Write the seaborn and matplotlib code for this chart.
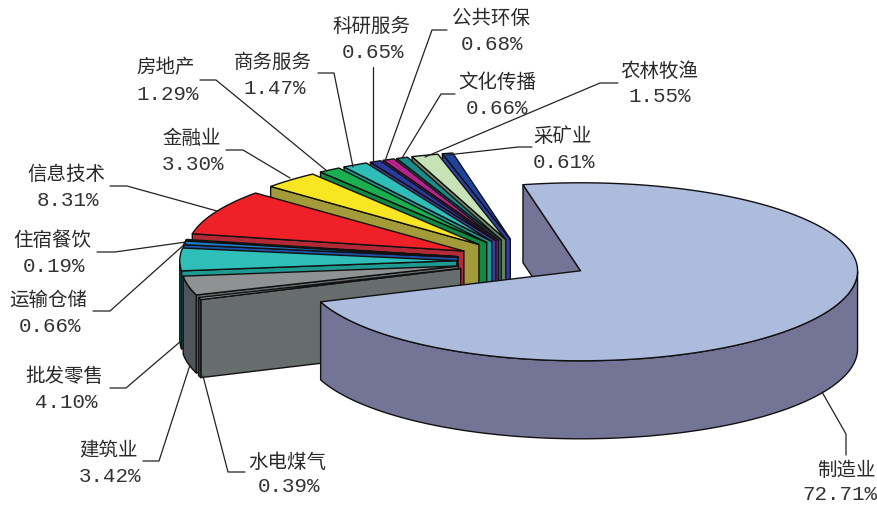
import numpy as np
import matplotlib
matplotlib.use("Agg")
import matplotlib.pyplot as plt
import seaborn as sns

categories = ["制造业", "水电煤气", "建筑业", "批发零售", "运输仓储", "住宿餐饮", "信息技术", "金融业",
              "房地产", "商务服务", "科研服务", "公共环保", "文化传播", "农林牧渔", "采矿业"]
values = [72.71, 0.39, 3.42, 4.10, 0.66, 0.19, 8.31, 3.30, 1.29, 1.47, 0.65, 0.68, 0.66, 1.55, 0.61]
top_hex = ["#ADBBDD", "#9A9E9F", "#8F9192", "#2EC0B8", "#1C7FC8", "#7A8CA8", "#EF2028", "#F9E622",
           "#1AAF4F", "#2EBDB8", "#2A3A9E", "#B7218C", "#1A8C8C", "#C8E2B8", "#1E459E"]
side_hex = ["#747596", "#676D6D", "#676C6C", "#1F9A93", "#1E4FA0", "#1E3C8C", "#B32A36", "#A39B3A",
            "#0F8A40", "#1F9A93", "#4040A0", "#8A1E78", "#1F7C80", "#6E8060", "#2E3FA8"]
arc_hex = ["#747596", "#3E4446", "#4F5558", "#1A8A84", "#1E4FA0", "#1E3C8C", "#B32A36", "#A39B3A",
           "#0F8A40", "#1F9A93", "#4040A0", "#8A1E78", "#1F7C80", "#6E8060", "#2E3FA8"]

# label layout: name centre, value centre, leader path (pixels)
label_pos = {
    "制造业": ((846, 470), (840, 495), [(822, 392), (846, 434), (846, 455)]),
    "水电煤气": ((287, 462), (289, 487), [(203, 376), (228, 472), (245, 472)]),
    "建筑业": ((109, 450), (110, 476), [(190, 365), (159, 461), (143, 461)]),
    "批发零售": ((64, 376), (66, 403), [(181, 341), (126, 388), (110, 388)]),
    "运输仓储": ((48, 301), (50, 326), [(186, 243), (110, 311), (93, 311)]),
    "住宿餐饮": ((52, 241), (54, 267), [(186, 242), (115, 252), (97, 252)]),
    "信息技术": ((66, 174), (68, 200), [(217, 211), (127, 186), (110, 186)]),
    "金融业": ((192, 138), (193, 164), [(290, 178), (243, 150), (226, 150)]),
    "房地产": ((166, 68), (168, 94), [(327, 171), (216, 80), (200, 80)]),
    "商务服务": ((273, 62), (275, 88), [(353, 167), (334, 73), (318, 73)]),
    "科研服务": ((371, 26), (373, 52), [(373, 162), (373, 67)]),
    "公共环保": ((491, 18), (492, 44), [(385, 161), (432, 30), (447, 30)]),
    "文化传播": ((497, 82), (497, 108), [(402, 158), (441, 94), (455, 94)]),
    "农林牧渔": ((659, 71), (660, 97), [(425, 157), (600, 83), (618, 83)]),
    "采矿业": ((563, 136), (564, 162), [(447, 155), (518, 147), (532, 147)]),
}

sns.set_theme(style="white")
plt.rcParams["font.family"] = ["Noto Sans CJK SC", "DejaVu Sans"]
top_colors = sns.color_palette(top_hex)
side_colors = sns.color_palette(side_hex)
arc_colors = sns.color_palette(arc_hex)

fig, ax = plt.subplots(figsize=(8.78, 5.05), dpi=100)
fig.subplots_adjust(0, 0, 1, 1)
ax.set_xlim(0, 878)
ax.set_ylim(505, 0)
ax.axis("off")

CX, CY = 526, 261
RX = 277
RY_BACK, RY_FRONT = 88, 90
EXPLODE_BIG, EXPLODE = 0.225, 0.25
DEPTH = 78
START = 102.0
EDGE = dict(edgecolor="#111111", linewidth=1.0, joinstyle="round")


def pts(x0, y0, t):
    s = np.sin(t)
    return x0 + RX * np.cos(t), y0 - np.where(s > 0, RY_BACK, RY_FRONT) * s


def draw_slice(i, a1, a2):
    mid = np.radians((a1 + a2) / 2)
    e = EXPLODE_BIG if i == 0 else EXPLODE
    x0 = CX + e * RX * np.cos(mid)
    y0 = CY - e * 90 * np.sin(mid)
    t = np.radians(np.linspace(a1, a2, max(int(a2 - a1) * 2, 4)))
    # radial cut faces turned towards the viewer
    for ang, vis in ((a2, np.cos(np.radians(a2)) < 0), (a1, np.cos(np.radians(a1)) > 0)):
        if vis:
            px, py = pts(x0, y0, np.radians(ang))
            ax.fill([x0, px, px, x0], [y0, py, py + DEPTH, y0 + DEPTH],
                    facecolor=side_colors[i], **EDGE)
    # outer rim on the near half of the ellipse
    near = t[np.sin(t) < 0]
    if near.size > 1:
        ax_, ay_ = pts(x0, y0, near)
        ax.fill(np.r_[ax_, ax_[::-1]], np.r_[ay_, ay_[::-1] + DEPTH],
                facecolor=arc_colors[i], **EDGE)
    # top face
    fx, fy = pts(x0, y0, t)
    ax.fill(np.r_[x0, fx], np.r_[y0, fy], facecolor=top_colors[i], **EDGE)


spans = np.array(values) / sum(values) * 360.0
edges = START - np.r_[0, np.cumsum(spans)]   # clockwise from START
order = list(range(len(values) - 1, 0, -1)) + [0]   # back to front, big slice last
for i in order:
    draw_slice(i, edges[i + 1], edges[i])

for name, val in zip(categories, values):
    (nx, ny), (vx, vy), path = label_pos[name]
    xs, ys = zip(*path)
    ax.plot(xs, ys, color="#222222", lw=0.9, zorder=5)
    ax.text(nx, ny, name, ha="center", va="center", fontsize=14, color="#2a2a2a", zorder=6)
    ax.text(vx, vy, f"{val:.2f}%", ha="center", va="center", fontsize=15,
            family=["Liberation Mono", "DejaVu Sans"], color="#333333", zorder=6)

fig.savefig("out.png", dpi=100)
